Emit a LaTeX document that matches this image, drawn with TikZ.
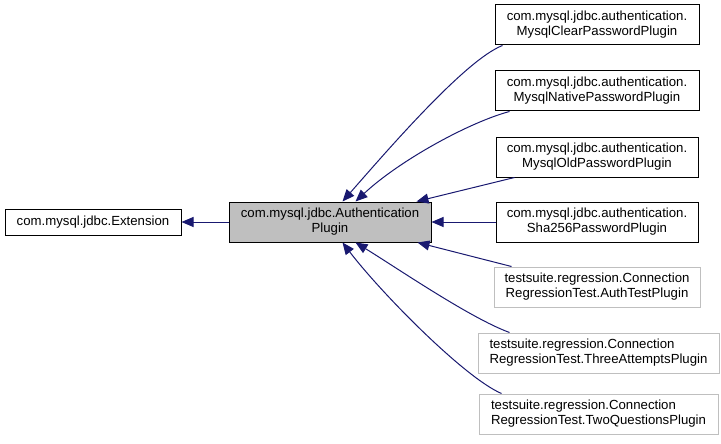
\documentclass[tikz,border=0pt]{standalone}
\usepackage{fontspec}
\setmainfont{Liberation Sans}
\usetikzlibrary{arrows.meta}

\definecolor{edgeblue}{HTML}{191970}
\definecolor{nodegray}{HTML}{BFBFBF}

\begin{document}
\begin{tikzpicture}[
    x=1pt, y=-1pt,
    every node/.style={font=\fontsize{13.2}{15}\selectfont, inner sep=0pt},
    cls/.style={draw=black, line width=1pt, minimum height=40pt, align=center},
    ext/.style={cls, draw=nodegray},
    inh/.style={-{Triangle[length=12pt, width=10pt]}, draw=edgeblue, line width=1pt}
]
\useasboundingbox (0,0) rectangle (721,444);

\node[cls, minimum width=176pt, minimum height=26pt] (extension) at (93,222) {com.mysql.jdbc.Extension};
\node[cls, fill=nodegray, minimum width=202pt] (authplugin) at (330,222) {com.mysql.jdbc.Authentication\\Plugin};

\node[cls, minimum width=204pt] (clearpw) at (597,25) {com.mysql.jdbc.authentication.\\MysqlClearPasswordPlugin};
\node[cls, minimum width=204pt] (nativepw) at (597,91) {com.mysql.jdbc.authentication.\\MysqlNativePasswordPlugin};
\node[cls, minimum width=202pt] (oldpw) at (597,157) {com.mysql.jdbc.authentication.\\MysqlOldPasswordPlugin};
\node[cls, minimum width=202pt] (shapw) at (597,222) {com.mysql.jdbc.authentication.\\Sha256PasswordPlugin};
\node[ext, minimum width=206pt] (authtest) at (597,287) {testsuite.regression.Connection\\RegressionTest.AuthTestPlugin};
\node[ext, minimum width=241pt, align=left] (threeatt) at (598.5,353) {testsuite.regression.Connection\\RegressionTest.ThreeAttemptsPlugin};
\node[ext, minimum width=239pt, align=left] (twoq) at (598.5,414) {testsuite.regression.Connection\\RegressionTest.TwoQuestionsPlugin};

% inheritance edges
\draw[inh] (authplugin.west) -- (extension.east);
\draw[inh] ([xshift=8pt]clearpw.south west) .. controls (465,60) and (386,152) .. ([xshift=114pt]authplugin.north west);
\draw[inh] ([xshift=15pt]nativepw.south west) .. controls (470,122) and (400,160) .. ([xshift=127pt]authplugin.north west);
\draw[inh] ([xshift=19pt]oldpw.south west) -- ([xshift=-15pt]authplugin.north east);
\draw[inh] (shapw.west) -- (authplugin.east);
\draw[inh] ([xshift=18pt]authtest.north west) -- ([xshift=-14pt]authplugin.south east);
\draw[inh] ([xshift=32pt]threeatt.north west) .. controls (470,318) and (397,268) .. ([xshift=127pt]authplugin.south west);
\draw[inh] ([xshift=23pt]twoq.north west) .. controls (465,378) and (382,294) .. ([xshift=114pt]authplugin.south west);
\end{tikzpicture}
\end{document}
